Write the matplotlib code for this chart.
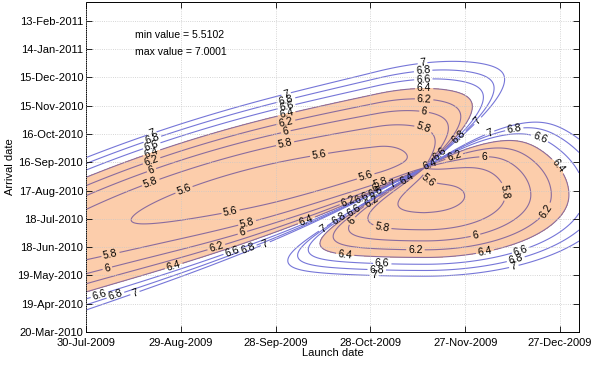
import numpy as np
import matplotlib
matplotlib.use("Agg")
import matplotlib.pyplot as plt

plt.rcParams['font.family'] = ['Liberation Sans', 'DejaVu Sans']

# axes run in days after the first launch / first arrival date
launch_span = 156
arrival_span = 350
tick_every = 30
launch_ticks = ['30-Jul-2009', '29-Aug-2009', '28-Sep-2009', '28-Oct-2009',
                '27-Nov-2009', '27-Dec-2009']
arrival_ticks = ['20-Mar-2010', '19-Apr-2010', '19-May-2010', '18-Jun-2010',
                 '18-Jul-2010', '17-Aug-2010', '16-Sep-2010', '16-Oct-2010',
                 '15-Nov-2010', '15-Dec-2010', '14-Jan-2011', '13-Feb-2011']

levels = [5.6, 5.8, 6.0, 6.2, 6.4, 6.6, 6.8, 7.0]
fill_below = 6.4
min_value = 5.5102
max_value = 7.0001

# field shape, in launch days and "scaled" arrival (arrival day * 0.3)
arr_scale = 0.3
pinch = (107.0, 52.2)           # where both transfer types meet
ridge_slope = (0.55, 0.72)      # before / after the pinch
ridge_strength = (0.06, 0.15)
ridge_width = 10.0

# type I lobe (upper left)
lobe1_axis = [31.0, 0.346, -1.334e-3]
lobe1_min = 5.51
lobe1_flat = (65.0, 92.1)       # launch days where the valley floor is flat
lobe1_rise = (3.5e-5, 4.6e-4)   # rise before / after the flat part
lobe1_up = [2.24e-3, -1.2e-6, -7.2e-8]
lobe1_low = 2.2e-3

# type II lobe (lower right)
lobe2_centre = (107.3, 43.6)
lobe2_min = 5.53
lobe2_x = (1e-4, 4.2e-4)        # left / right
lobe2_w = (1.5e-3, 2.2e-3)      # above / below


def porkchop(L, A):
    W = A * arr_scale
    # type I
    axis = lobe1_axis[0] + lobe1_axis[1] * L + lobe1_axis[2] * L ** 2
    floor = (lobe1_min
             + lobe1_rise[0] * np.minimum(L - lobe1_flat[0], 0) ** 2
             + lobe1_rise[1] * np.maximum(L - lobe1_flat[1], 0) ** 2)
    k_up = np.maximum(lobe1_up[0] + lobe1_up[1] * L + lobe1_up[2] * L ** 2, 4e-4)
    dw = W - axis
    f1 = floor + np.where(dw > 0, k_up, lobe1_low) * dw ** 2
    # type II
    dx = L - lobe2_centre[0]
    dw2 = W - lobe2_centre[1]
    f2 = (lobe2_min + np.where(dx < 0, lobe2_x[0], lobe2_x[1]) * dx ** 2
          + np.where(dw2 > 0, lobe2_w[0], lobe2_w[1]) * dw2 ** 2)
    # 180 deg transfer ridge
    u = L - pinch[0]
    after = u > 0
    n = W - (pinch[1] + np.where(after, ridge_slope[1], ridge_slope[0]) * u)
    c = np.where(after, ridge_strength[1], ridge_strength[0])
    ridge = c * np.abs(u) / (np.abs(n) + 0.02) * np.exp(-(n / ridge_width) ** 2)
    f = np.where(n > 0, f1, f2) + ridge
    return np.minimum(f, 20)


launch = np.arange(0, launch_span + 0.25, 0.25)
arrival = np.arange(0, arrival_span + 0.5, 0.5)
L, A = np.meshgrid(launch, arrival)
F = porkchop(L, A)

fig = plt.figure(figsize=(6, 3.67), dpi=100)
ax = fig.add_axes([0.1433, 0.0954, 0.8217, 0.8992])

ax.contourf(L, A, F, levels=[0, fill_below], colors=['#fccdab'])
line_colors = ['#8a6c9e' if lv <= fill_below else '#7676d8' for lv in levels]
cs = ax.contour(L, A, F, levels=levels, colors=line_colors, linewidths=0.8)

ax.set_xlim(0, launch_span)
ax.set_ylim(0, arrival_span)
ax.set_xticks(np.arange(len(launch_ticks)) * tick_every)
ax.set_xticklabels(launch_ticks)
ax.set_yticks(np.arange(len(arrival_ticks)) * tick_every)
ax.set_yticklabels(arrival_ticks)
ax.tick_params(direction='in', top=True, right=True, length=4, width=0.6,
               labelsize=8)
ax.tick_params(axis='x', pad=4)
ax.tick_params(axis='y', pad=2)
ax.grid(True, linestyle=':', color='#c8c8c8', linewidth=0.6)
ax.set_axisbelow(False)
for sp in ax.spines.values():
    sp.set_linewidth(0.7)

ax.set_xlabel('Launch date', fontsize=8, labelpad=0)
ax.set_ylabel('Arrival date', fontsize=8, labelpad=2)

ax.text(0.099, 0.90, 'min value = %.4f' % min_value, transform=ax.transAxes,
        fontsize=7.6, va='center')
ax.text(0.099, 0.848, 'max value = %.4f' % max_value, transform=ax.transAxes,
        fontsize=7.6, va='center')

# labels along each line, roughly every 140 px like the original tool
fig.canvas.draw()
pts = []
for lev, path in zip(cs.levels, cs.get_paths()):
    verts, codes = path.vertices, path.codes
    starts = [0] if codes is None else np.flatnonzero(codes == 1)
    for seg in np.split(verts, starts[1:]):
        if len(seg) < 2:
            continue
        disp = ax.transData.transform(seg)
        d = np.r_[0, np.cumsum(np.hypot(*np.diff(disp, axis=0).T))]
        if d[-1] < 40:
            continue
        for t in np.arange(70, d[-1], 140):
            pts.append(seg[min(np.searchsorted(d, t), len(seg) - 1)])
ax.clabel(cs, manual=pts, inline=True, fontsize=7.5, fmt='%g', colors='k',
          inline_spacing=2)

fig.savefig('out.png', dpi=100)
